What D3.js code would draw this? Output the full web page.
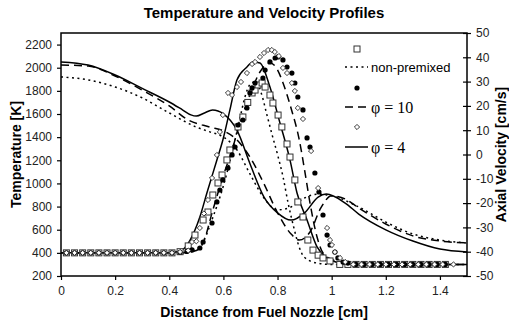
<!DOCTYPE html>
<html>
<head>
<meta charset="utf-8">
<script src="https://cdn.jsdelivr.net/npm/d3@7"></script>
<style>
  body { margin: 0; background: #fff; }
  text { font-family: "Liberation Sans", Arial, sans-serif; }
</style>
</head>
<body>
<svg id="chart" width="509" height="323"></svg>
<script>
// ---- data ----
const xTicks = [0, 0.2, 0.4, 0.6, 0.8, 1, 1.2, 1.4];
const tTicks = [200, 400, 600, 800, 1000, 1200, 1400, 1600, 1800, 2000, 2200];
const vTicks = [-50, -40, -30, -20, -10, 0, 10, 20, 30, 40, 50];

// temperature lines [x cm, T K]
const tempNonPremixed = [[0,400],[0.45,400],[0.5,430],[0.53,520],[0.56,700],[0.6,980],[0.63,1250],[0.66,1550],[0.68,1750],[0.7,1860],[0.72,1880],[0.74,1780],[0.76,1600],[0.78,1420],[0.8,1250],[0.82,1060],[0.84,820],[0.86,620],[0.88,450],[0.9,360],[0.95,310],[1.0,300],[1.5,300]];
const tempPhi10 = [[0,400],[0.45,400],[0.5,420],[0.525,485],[0.561,770],[0.598,1056],[0.632,1289],[0.661,1522],[0.698,1764],[0.735,1963],[0.772,2041],[0.798,1990],[0.82,1870],[0.85,1650],[0.88,1380],[0.9,1116],[0.92,830],[0.946,537],[0.968,399],[1.005,338],[1.05,305],[1.1,300],[1.5,300]];
const tempPhi4 = [[0,400],[0.4,400],[0.45,430],[0.477,511],[0.513,710],[0.539,917],[0.576,1203],[0.598,1375],[0.624,1635],[0.65,1894],[0.687,2006],[0.709,2050],[0.735,2041],[0.772,1833],[0.809,1522],[0.846,1203],[0.872,917],[0.909,684],[0.946,451],[0.983,356],[1.03,312],[1.08,300],[1.5,300]];

// velocity lines [x cm, v cm/s]
const velNonPremixed = [[0,31.9],[0.1,30.7],[0.2,27.8],[0.3,23.3],[0.4,17.1],[0.5,11.3],[0.55,9.3],[0.6,7.2],[0.65,1.9],[0.7,-8.4],[0.75,-17.9],[0.8,-22.8],[0.85,-21.6],[0.9,-17.9],[0.95,-16.3],[1.0,-17],[1.1,-21.6],[1.2,-27.8],[1.3,-32.7],[1.4,-35.2],[1.5,-36.4]];
const velPhi10 = [[0,36.8],[0.1,36.4],[0.2,32.3],[0.3,26.5],[0.4,20],[0.47,14.2],[0.55,11.3],[0.6,9.7],[0.65,6],[0.7,-1.4],[0.75,-12.1],[0.8,-24],[0.85,-32.7],[0.88,-35.2],[0.92,-31.9],[0.96,-22],[1.0,-17],[1.05,-18.3],[1.1,-22],[1.2,-28.6],[1.3,-33.5],[1.4,-35.6],[1.5,-36.4]];
const velPhi4 = [[0,38.1],[0.1,36.8],[0.2,32.7],[0.3,27.2],[0.4,21.6],[0.45,18.3],[0.48,16.3],[0.5,15.8],[0.53,17.1],[0.56,18.3],[0.6,16.7],[0.65,10],[0.7,-4.3],[0.75,-17.5],[0.8,-24],[0.85,-27],[0.9,-24],[0.95,-17.5],[0.98,-16.3],[1.05,-20],[1.1,-24.5],[1.2,-31],[1.3,-35.6],[1.4,-38.9],[1.5,-40.1]];

// marker series [x cm, T K]
const squaresNonPremixed = [[0.02,400],[0.05,400],[0.08,400],[0.11,400],[0.14,400],[0.17,400],[0.2,400],[0.23,400],[0.26,400],[0.29,400],[0.32,400],[0.35,400],[0.38,400],[0.41,400],[0.44,410],[0.47,460],[0.495,554],[0.525,684],[0.543,753],[0.561,900],[0.58,1004],[0.595,1073],[0.613,1203],[0.624,1289],[0.654,1488],[0.672,1574],[0.69,1700],[0.706,1782],[0.717,1807],[0.728,1851],[0.743,1868],[0.754,1833],[0.772,1764],[0.783,1695],[0.802,1591],[0.816,1488],[0.835,1341],[0.846,1228],[0.864,1030],[0.875,840],[0.894,710],[0.912,511],[0.931,424],[0.95,380],[0.968,356],[0.994,330],[1.03,300],[1.06,300],[1.09,300],[1.12,300],[1.15,300],[1.18,300],[1.21,300],[1.24,300],[1.27,300],[1.3,300],[1.33,300],[1.36,300],[1.39,300],[1.42,300]];
const circlesPhi10 = [[0.02,400],[0.05,400],[0.08,400],[0.11,400],[0.14,400],[0.17,400],[0.2,400],[0.23,400],[0.26,400],[0.29,400],[0.32,400],[0.35,400],[0.38,400],[0.41,400],[0.44,405],[0.465,412],[0.484,425],[0.513,442],[0.525,494],[0.558,658],[0.576,840],[0.587,943],[0.598,1030],[0.617,1133],[0.632,1246],[0.643,1315],[0.654,1505],[0.672,1548],[0.687,1652],[0.698,1782],[0.706,1825],[0.717,1868],[0.746,1911],[0.754,1980],[0.772,2050],[0.791,2084],[0.802,2093],[0.82,2067],[0.835,2006],[0.853,1954],[0.864,1868],[0.875,1747],[0.894,1635],[0.909,1393],[0.92,1315],[0.938,1090],[0.953,926],[0.968,727],[0.983,554],[0.994,468],[1.012,407],[1.023,356],[1.042,321],[1.06,312],[1.09,300],[1.12,300],[1.15,300],[1.18,300],[1.21,300],[1.24,300],[1.27,300],[1.3,300],[1.33,300],[1.36,300],[1.39,300],[1.42,300]];
const diamondsPhi4 = [[0.02,400],[0.05,400],[0.08,400],[0.11,400],[0.14,400],[0.17,400],[0.2,400],[0.23,400],[0.26,400],[0.29,400],[0.32,400],[0.35,400],[0.38,400],[0.41,400],[0.44,408],[0.47,420],[0.484,494],[0.5,500],[0.513,615],[0.528,740],[0.543,857],[0.558,1047],[0.576,1246],[0.587,1445],[0.598,1591],[0.617,1782],[0.632,1764],[0.65,1833],[0.665,1877],[0.687,1954],[0.706,2032],[0.717,2050],[0.735,2093],[0.75,2127],[0.765,2153],[0.779,2153],[0.79,2136],[0.805,2101],[0.82,1998],[0.835,1954],[0.853,1868],[0.864,1799],[0.875,1652],[0.894,1557],[0.924,1280],[0.95,960],[0.983,615],[0.994,511],[1.001,468],[1.012,407],[1.031,356],[1.05,321],[1.08,300],[1.11,300],[1.14,300],[1.17,300],[1.2,300],[1.23,300],[1.26,300],[1.29,300],[1.32,300],[1.35,300],[1.38,300],[1.41,300],[1.45,300]];

const legendLabels = ["", "non-premixed", "", "\u03c6 = 10", "", "\u03c6 = 4"];

// ---- layout ----
const svg = d3.select("#chart");
const pLeft = 61, pRight = 467, pTop = 33, pBottom = 276;

const x = d3.scaleLinear().domain([0, 1.5]).range([pLeft, pRight]);
const yT = d3.scaleLinear().domain([200, 2300]).range([pBottom, pTop]);
const yV = d3.scaleLinear().domain([-50, 50]).range([pBottom, pTop]);

const tLine = d3.line().x(d => x(d[0])).y(d => yT(d[1])).curve(d3.curveMonotoneX);
const vLine = d3.line().x(d => x(d[0])).y(d => yV(d[1])).curve(d3.curveMonotoneX);

const styles = {
  dotted: "2,3.5",
  dashed: "8,5",
  solid: null
};

// frame
svg.append("rect").attr("x", pLeft).attr("y", pTop)
  .attr("width", pRight - pLeft).attr("height", pBottom - pTop)
  .attr("fill", "none").attr("stroke", "#000").attr("stroke-width", 1.5);

// axes
const plain = d => String(d);
const gx = svg.append("g").attr("transform", `translate(0,${pBottom})`)
  .call(d3.axisBottom(x).tickValues(xTicks).tickFormat(plain).tickSize(4).tickSizeOuter(0).tickPadding(6));
const gl = svg.append("g").attr("transform", `translate(${pLeft},0)`)
  .call(d3.axisLeft(yT).tickValues(tTicks).tickFormat(plain).tickSize(4).tickSizeOuter(0).tickPadding(5));
const gr = svg.append("g").attr("transform", `translate(${pRight},0)`)
  .call(d3.axisRight(yV).tickValues(vTicks).tickFormat(plain).tickSize(4).tickSizeOuter(0).tickPadding(5));
gr.selectAll(".tick line").attr("x1", -4);

[gx, gl, gr].forEach(g => {
  g.select(".domain").remove();
  g.selectAll(".tick line").attr("stroke", "#000").attr("stroke-width", 1.2);
  g.selectAll(".tick text").attr("font-size", 12).attr("fill", "#222")
    .attr("font-family", "Liberation Sans, Arial, sans-serif");
});

// lines
const plot = svg.append("g");
[[tempNonPremixed, "dotted"], [tempPhi10, "dashed"], [tempPhi4, "solid"]].forEach(([d, s]) => {
  plot.append("path").datum(d).attr("d", tLine)
    .attr("fill", "none").attr("stroke", "#000").attr("stroke-width", 1.5)
    .attr("stroke-dasharray", styles[s]);
});
[[velNonPremixed, "dotted"], [velPhi10, "dashed"], [velPhi4, "solid"]].forEach(([d, s]) => {
  plot.append("path").datum(d).attr("d", vLine)
    .attr("fill", "none").attr("stroke", "#000").attr("stroke-width", 1.5)
    .attr("stroke-dasharray", styles[s]);
});

// markers
function drawSquares(g, data) {
  g.selectAll(null).data(data).enter().append("rect")
    .attr("x", d => x(d[0]) - 3).attr("y", d => yT(d[1]) - 3)
    .attr("width", 6).attr("height", 6)
    .attr("fill", "#fff").attr("stroke", "#333").attr("stroke-width", 1);
}
function drawCircles(g, data) {
  g.selectAll(null).data(data).enter().append("circle")
    .attr("cx", d => x(d[0])).attr("cy", d => yT(d[1])).attr("r", 2.6)
    .attr("fill", "#000");
}
function drawDiamonds(g, data) {
  g.selectAll(null).data(data).enter().append("path")
    .attr("d", d => { const cx = x(d[0]), cy = yT(d[1]);
      return `M${cx},${cy-2.6}L${cx+2.6},${cy}L${cx},${cy+2.6}L${cx-2.6},${cy}Z`; })
    .attr("fill", "#fff").attr("stroke", "#222").attr("stroke-width", 0.9);
}
drawSquares(plot.append("g"), squaresNonPremixed);
drawCircles(plot.append("g"), circlesPhi10);
drawDiamonds(plot.append("g"), diamondsPhi4);

// legend
const legend = svg.append("g");
const rowY = [49, 67, 88, 107, 127, 147];
const mx = 357;
drawSquares(legend.append("g"), [[x.invert(mx), yT.invert(rowY[0])]]);
drawCircles(legend.append("g"), [[x.invert(mx), yT.invert(rowY[2])]]);
drawDiamonds(legend.append("g"), [[x.invert(mx), yT.invert(rowY[4])]]);
[[1, "dotted"], [3, "dashed"], [5, "solid"]].forEach(([i, s]) => {
  legend.append("line").attr("x1", 345).attr("x2", 368).attr("y1", rowY[i]).attr("y2", rowY[i])
    .attr("stroke", "#000").attr("stroke-width", 1.5).attr("stroke-dasharray", styles[s]);
  const t = legend.append("text").attr("x", 371).attr("y", rowY[i]).attr("dy", "0.35em")
    .attr("fill", "#000").text(legendLabels[i]);
  if (i === 1) t.attr("font-size", 13);
  else t.attr("font-size", 16).style("font-family", "Liberation Serif, 'Times New Roman', serif");
});

// titles
svg.append("text").attr("x", 264).attr("y", 18).attr("text-anchor", "middle")
  .attr("font-size", 15).attr("font-weight", "bold").text("Temperature and Velocity Profiles");
svg.append("text").attr("x", 264).attr("y", 317).attr("text-anchor", "middle")
  .attr("font-size", 14).attr("font-weight", "bold").text("Distance from Fuel Nozzle [cm]");
svg.append("text").attr("transform", `translate(21,${(pTop + pBottom) / 2}) rotate(-90)`)
  .attr("text-anchor", "middle").attr("font-size", 14).attr("font-weight", "bold").text("Temperature [K]");
svg.append("text").attr("transform", `translate(506,${(pTop + pBottom) / 2}) rotate(-90)`)
  .attr("text-anchor", "middle").attr("font-size", 14).attr("font-weight", "bold").text("Axial Velocity [cm/s]");
</script>
</body>
</html>
